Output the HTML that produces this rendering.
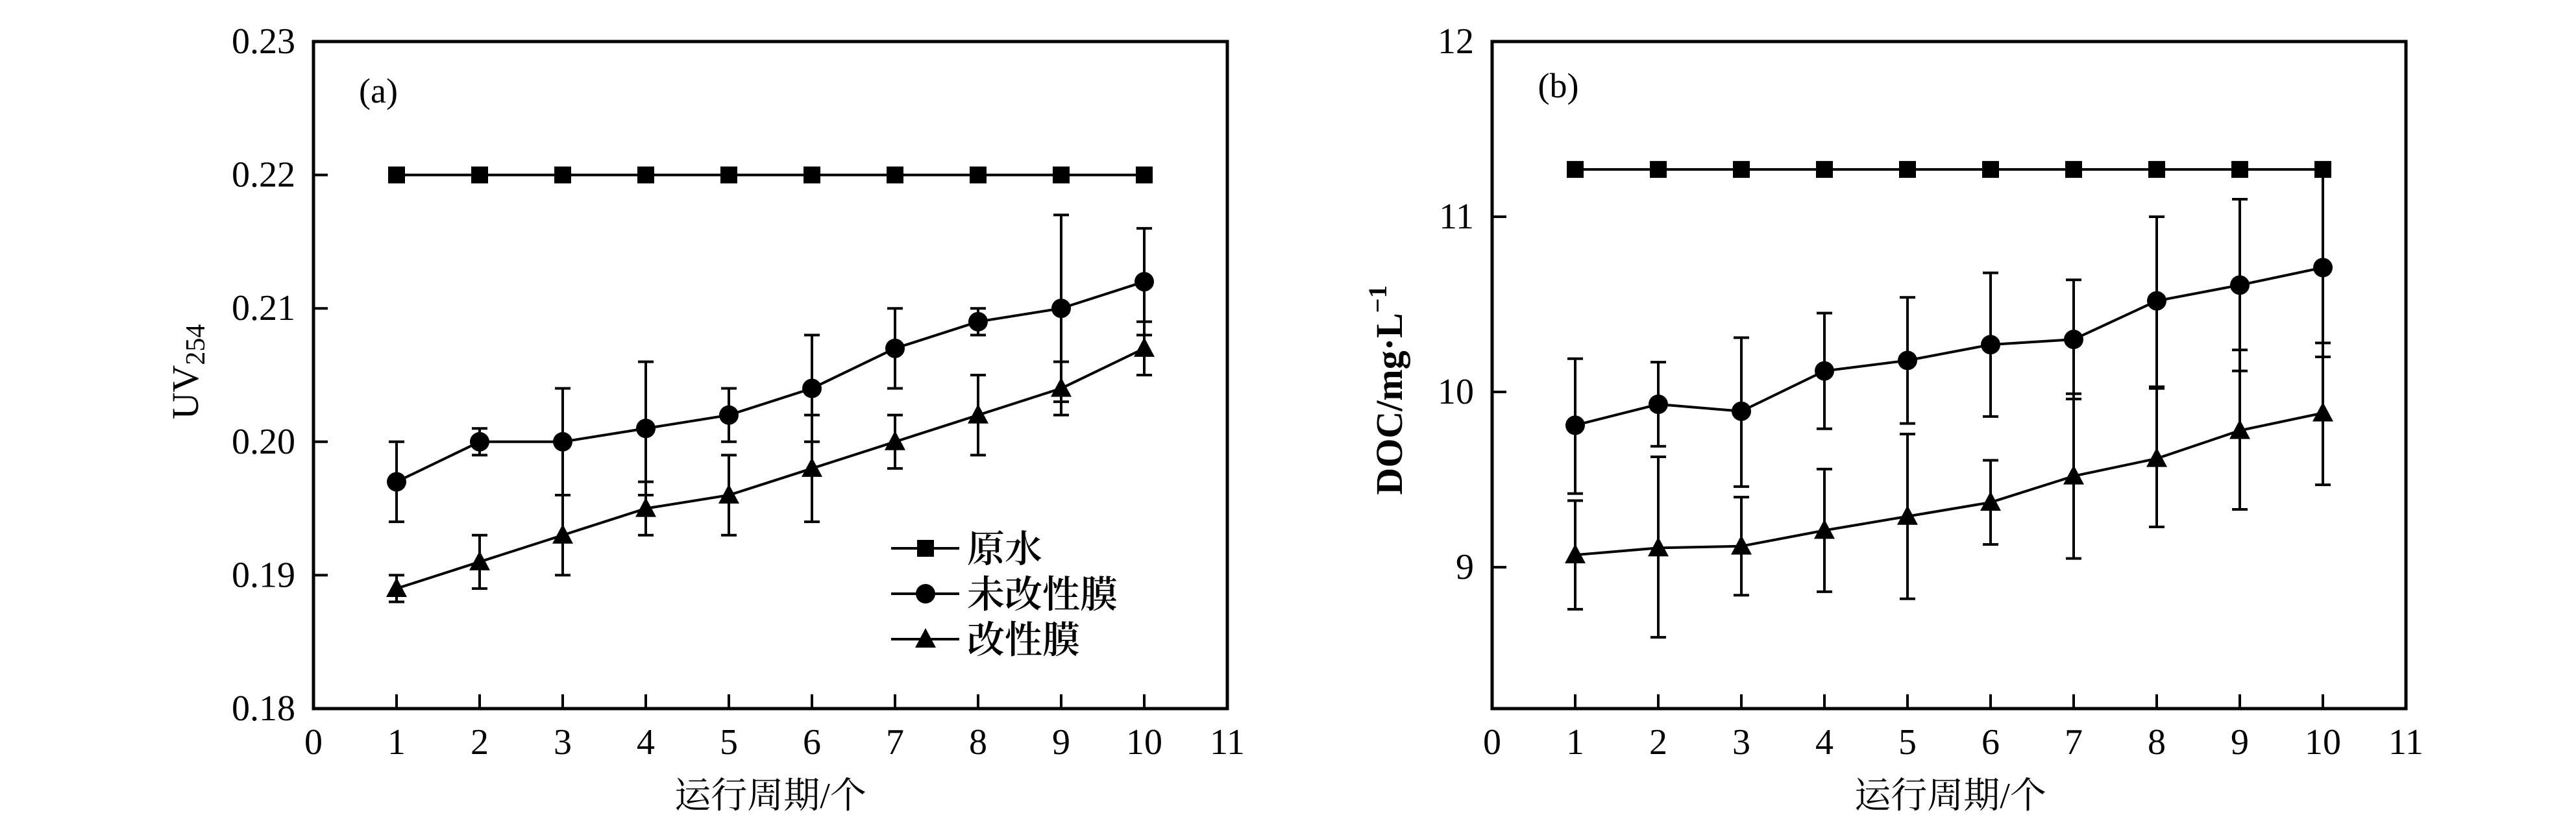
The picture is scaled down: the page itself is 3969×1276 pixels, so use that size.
<!DOCTYPE html>
<html><head><meta charset="utf-8"><style>
html,body{margin:0;padding:0;background:#fff;width:3969px;height:1276px;overflow:hidden}
svg text{font-family:"Liberation Serif","Noto Serif CJK SC",serif;fill:#000}
</style></head><body>
<svg id="s" width="3969" height="1276" viewBox="0 0 3969 1276" xmlns="http://www.w3.org/2000/svg">
<g id="g"></g>
<text x="583" y="158" font-size="54" text-anchor="middle">(a)</text>
<text x="2401" y="150" font-size="54" text-anchor="middle">(b)</text>
<text transform="translate(305,573) rotate(-90)" font-size="58" text-anchor="middle">UV<tspan font-size="42" dy="10">254</tspan></text>
<text transform="translate(2160,601) rotate(-90)" font-size="58" font-weight="bold" text-anchor="middle">DOC/mg·L<tspan font-size="40" dy="-24">−1</tspan></text>
<text x="1187" y="1245" font-size="56" text-anchor="middle" font-family="Noto Serif CJK SC, serif">运行周期/个</text>
<text x="3005" y="1245" font-size="56" text-anchor="middle" font-family="Noto Serif CJK SC, serif">运行周期/个</text>
<g font-size="58" font-family="Noto Serif CJK SC, serif" font-weight="600">
<text x="1490" y="866">原水</text>
<text x="1490" y="936">未改性膜</text>
<text x="1490" y="1006">改性膜</text>
</g>
</svg>
<script>
var g=document.getElementById('g'),h='';
function L(x1,y1,x2,y2,w){h+='<line x1="'+x1+'" y1="'+y1+'" x2="'+x2+'" y2="'+y2+'" stroke="#000" stroke-width="'+(w||4)+'"/>';}
function T(x,y,t,a){h+='<text x="'+x+'" y="'+y+'" font-size="56" text-anchor="'+a+'">'+t+'</text>';}
function M(t,x,y){
 if(t==0)h+='<rect x="'+(x-13)+'" y="'+(y-13)+'" width="26" height="26"/>';
 else if(t==1)h+='<circle cx="'+x+'" cy="'+y+'" r="15"/>';
 else h+='<polygon points="'+x+','+(y-17)+' '+(x-16)+','+(y+13)+' '+(x+16)+','+(y+13)+'"/>';
}
var TOP=64,BOT=1092;
function panel(x0,ymin,ymax,yt,fmt,series){
 var sx=function(v){return x0+v*128};
 var sy=function(v){return BOT-(v-ymin)/(ymax-ymin)*(BOT-TOP)};
 h+='<rect x="'+x0+'" y="'+TOP+'" width="1408" height="'+(BOT-TOP)+'" fill="none" stroke="#000" stroke-width="5"/>';
 for(var i=0;i<=11;i++){ if(i>0&&i<11)L(sx(i),BOT,sx(i),BOT-22); T(sx(i),1162,i,'middle');}
 yt.forEach(function(v){var y=sy(v); if(y>TOP+2&&y<BOT-2)L(x0,y,x0+22,y); T(x0-28,y+18,fmt(v),'end');});
 series.forEach(function(s){
  var pts=s.v.map(function(v,i){return sx(i+1)+','+sy(v)}).join(' ');
  h+='<polyline points="'+pts+'" fill="none" stroke="#000" stroke-width="4"/>';
  if(s.hi)s.v.forEach(function(v,i){var x=sx(i+1),a=sy(s.hi[i]),b=sy(s.lo[i]);L(x,a,x,b);L(x-12,a,x+12,a);L(x-12,b,x+12,b);});
  s.v.forEach(function(v,i){M(s.t,sx(i+1),sy(v));});
 });
}
var c=[.197,.200,.200,.201,.202,.204,.207,.209,.210,.212],ce=[.003,.001,.004,.005,.002,.004,.003,.001,.007,.004];
var t=[.189,.191,.193,.195,.196,.198,.200,.202,.204,.207],te=[.001,.002,.003,.002,.003,.004,.002,.003,.002,.002];
panel(483,.18,.23,[.18,.19,.20,.21,.22,.23],function(v){return v.toFixed(2)},[
 {t:0,v:[.22,.22,.22,.22,.22,.22,.22,.22,.22,.22]},
 {t:1,v:c,hi:c.map(function(v,i){return v+ce[i]}),lo:c.map(function(v,i){return v-ce[i]})},
 {t:2,v:t,hi:t.map(function(v,i){return v+te[i]}),lo:t.map(function(v,i){return v-te[i]})}
]);
panel(2299,8.193,12,[9,10,11,12],function(v){return v},[
 {t:0,v:[11.27,11.27,11.27,11.27,11.27,11.27,11.27,11.27,11.27,11.27]},
 {t:1,v:[9.81,9.93,9.89,10.12,10.18,10.27,10.30,10.52,10.61,10.71],hi:[10.19,10.17,10.31,10.45,10.54,10.68,10.64,11.0,11.1,11.28],lo:[9.42,9.69,9.46,9.79,9.82,9.86,9.96,10.03,10.12,10.2]},
 {t:2,v:[9.07,9.11,9.12,9.21,9.29,9.37,9.52,9.62,9.78,9.88],hi:[9.38,9.63,9.4,9.56,9.76,9.61,9.99,10.02,10.24,10.28],lo:[8.76,8.6,8.84,8.86,8.82,9.13,9.05,9.23,9.33,9.47]}
]);
[[845,0],[915,1],[985,2]].forEach(function(r){L(1373,r[0],1478,r[0]);M(r[1],1426,r[0]);});
g.innerHTML=h;
</script>
</body></html>
